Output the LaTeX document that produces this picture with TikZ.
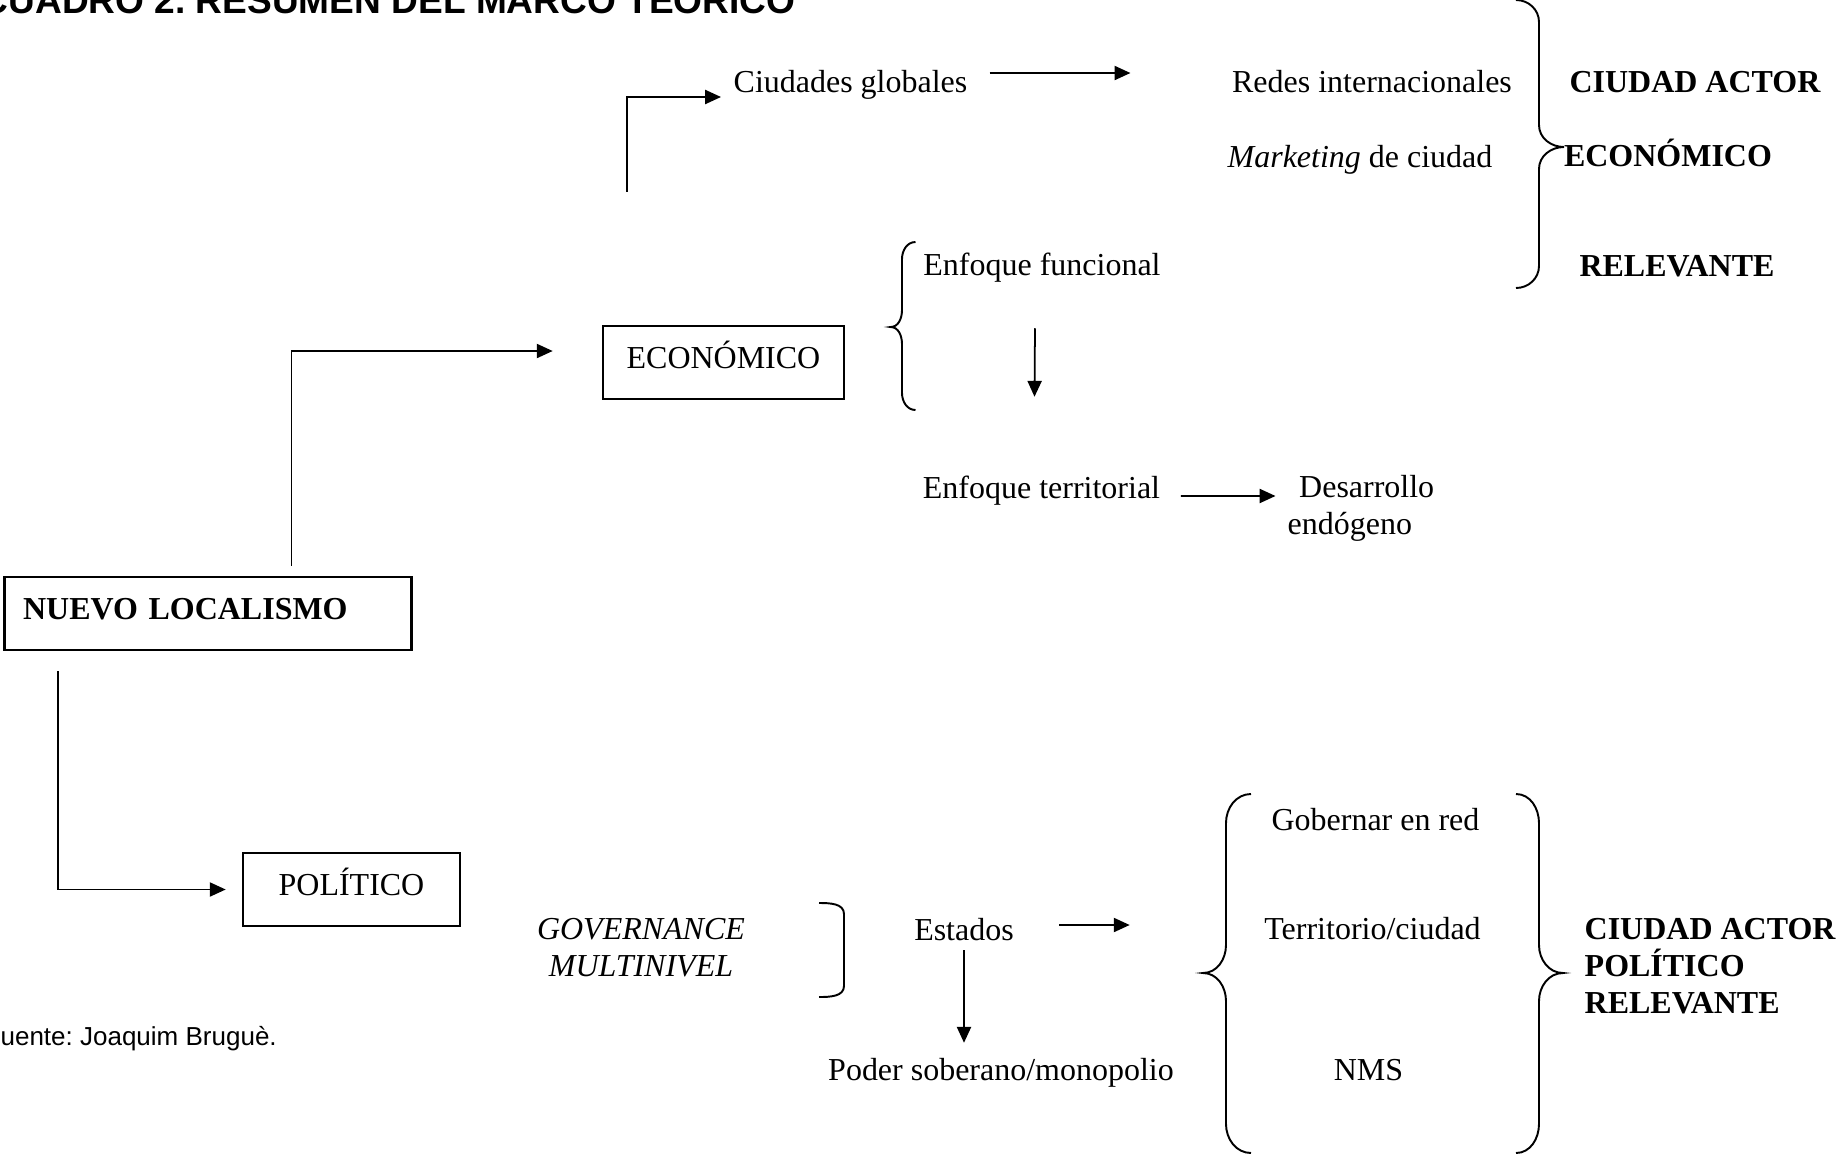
\documentclass[tikz,border=0pt]{standalone}
\usepackage{fontspec}
\setmainfont{Liberation Serif}
\newfontfamily\arialfont{Liberation Sans}
\newcommand\tamano{\fontsize{9.1}{10.5}\selectfont}
\frenchspacing
\usetikzlibrary{arrows.meta}

\begin{document}
\begin{tikzpicture}[every node/.append style={inner sep=0pt, text height=6pt, text depth=0pt, font=\tamano},
  caja/.style={draw, line width=0.75pt, minimum height=0.73cm, text depth=2.5pt},
  flecha/.style={line width=0.5pt, -{Triangle[length=4.5pt,width=4pt]}},
  llave/.style={line width=0.55pt},
  varias/.style={text height=, text depth=}]
  \useasboundingbox (0,0) rectangle (18.38,-11.57);

  \node[anchor=base west, font=\arialfont\fontsize{10.55}{12}\selectfont\bfseries] (titulo) at (-0.19,-0.135) {CUADRO 2. RESUMEN DEL MARCO TEÓRICO};
  \node[anchor=base west, font=\arialfont\fontsize{7.4}{9}\selectfont] (fuente) at (-0.16,-10.45) {Fuente: Joaquim Bruguè.};

  % rama economica
  \node (ciud) at (8.505,-0.82) {Ciudades globales};
  \node (redes) at (13.72,-0.82) {Redes internacionales};
  \node (mkt) at (13.60,-1.57) {\textit{Marketing} de ciudad};
  \node[font=\tamano\bfseries] (ciudEco) at (16.95,-0.82) {CIUDAD ACTOR};
  \node[font=\tamano\bfseries] (econEco) at (16.68,-1.56) {ECONÓMICO};
  \node[font=\tamano\bfseries] (relEco) at (16.77,-2.66) {RELEVANTE};
  \node[caja, minimum width=2.41cm] (eco) at (7.235,-3.625) {ECONÓMICO};
  \node (func) at (10.42,-2.65) {Enfoque funcional};
  \node (terr) at (10.415,-4.88) {Enfoque territorial};
  \node[varias, anchor=north west, align=left] (des) at (12.87,-4.745) {\hspace*{0.115cm}Desarrollo\\endógeno};

  \node[caja, font=\tamano\bfseries, text width=3.70cm, inner xsep=0.184cm, align=left] (nuevo) at (2.081,-6.135) {NUEVO LOCALISMO};

  % rama politica
  \node[caja, minimum width=2.17cm] (polit) at (3.515,-8.895) {POLÍTICO};
  \node[varias, anchor=north, align=center, font=\tamano\itshape] (gov) at (6.41,-9.18) {GOVERNANCE\\MULTINIVEL};
  \node (estados) at (9.64,-9.30) {Estados};
  \node (poder) at (10.01,-10.70) {Poder soberano/monopolio};
  \node (gob) at (13.755,-8.20) {Gobernar en red};
  \node (terr2) at (13.725,-9.29) {Territorio/ciudad};
  \node (nms) at (13.685,-10.70) {NMS};
  \node[varias, anchor=north west, align=left, font=\tamano\bfseries] (ciudPol) at (15.84,-9.18) {CIUDAD ACTOR\\POLÍTICO\\RELEVANTE};

  % flechas
  \draw[flecha] ([xshift=-0.965cm,yshift=1.33cm]eco.north) |- ([xshift=-0.12cm,yshift=-0.15cm]ciud.west);
  \draw[flecha] ([xshift=0.215cm,yshift=0.09cm]ciud.east) -- ([xshift=-1.01cm,yshift=0.09cm]redes.west);
  \draw[flecha] ([xshift=0.835cm,yshift=0.1cm]nuevo.north) |- ([xshift=-0.49cm,yshift=0.115cm]eco.west);
  \draw[flecha] ([xshift=-1.5cm,yshift=-0.2cm]nuevo.south) |- ([xshift=-0.16cm]polit.west);
  \draw[flecha] ([xshift=-0.07cm,yshift=-0.52cm]func.south) -- ([xshift=-0.07cm,yshift=0.8cm]terr.north);
  \draw[flecha] ([xshift=0.2cm,yshift=-0.08cm]terr.east) -- ([xshift=-0.115cm,yshift=-0.215cm]des.north west);
  \draw[flecha] ([xshift=0.45cm,yshift=0.05cm]estados.east) -- ([xshift=-1.34cm,yshift=0.04cm]terr2.west);
  \draw[flecha] ([yshift=-0.09cm]estados.south) -- ([xshift=-0.37cm,yshift=0.16cm]poder.north);

  % llaves
  \draw[llave] (15.16,0) to[out=0,in=90] (15.39,-0.22) -- (15.39,-1.25) to[out=-90,in=180] (15.64,-1.47) to[out=180,in=90] (15.39,-1.69) -- (15.39,-2.66) to[out=-90,in=0] (15.16,-2.88);
  \draw[llave] (9.155,-2.42) to[out=180,in=90] (9.02,-2.59) -- (9.02,-3.10) to[out=-90,in=0] (8.906,-3.27) to[out=0,in=90] (9.02,-3.44) -- (9.02,-3.93) to[out=-90,in=180] (9.155,-4.10);
  \draw[llave] (8.19,-9.03) to[out=0,in=90] (8.44,-9.14) -- (8.44,-9.86) to[out=-90,in=0] (8.19,-9.97);
  \draw[llave] (12.51,-7.94) to[out=180,in=90] (12.26,-8.23) -- (12.26,-9.45) to[out=-90,in=0] (12.03,-9.73) to[out=0,in=90] (12.26,-10.01) -- (12.26,-11.24) to[out=-90,in=180] (12.51,-11.53);
  \draw[llave] (15.16,-7.94) to[out=0,in=90] (15.39,-8.23) -- (15.39,-9.45) to[out=-90,in=180] (15.63,-9.73) to[out=180,in=90] (15.39,-10.01) -- (15.39,-11.24) to[out=-90,in=0] (15.16,-11.53);
\end{tikzpicture}
\end{document}
